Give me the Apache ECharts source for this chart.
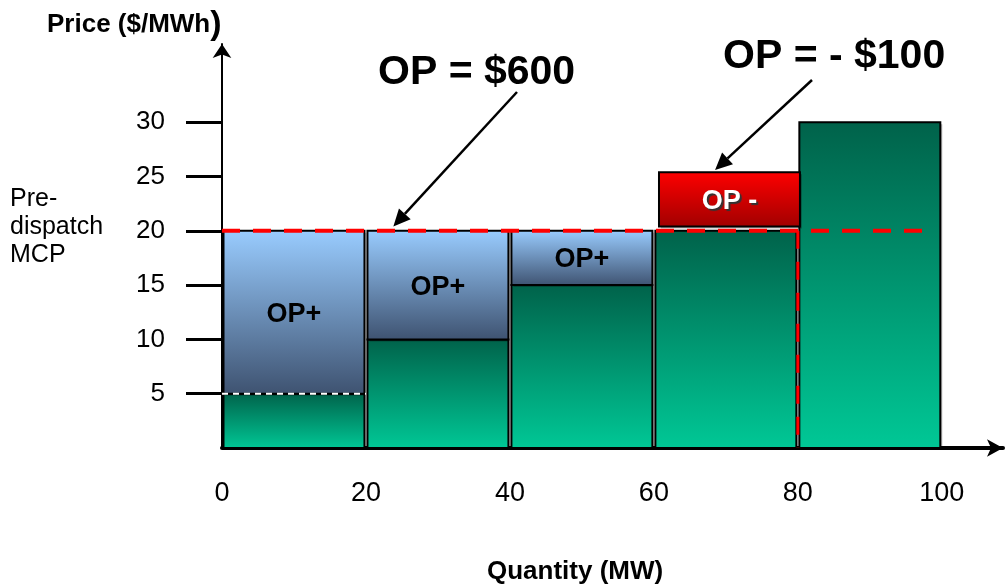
<!DOCTYPE html>
<html>
<head>
<meta charset="utf-8">
<script src="https://cdn.jsdelivr.net/npm/echarts@6/dist/echarts.min.js"></script>
<style>
  html, body { margin: 0; padding: 0; background: #fff; }
  #chart { width: 1005px; height: 588px; }
</style>
</head>
<body>
<div id="chart"></div>
<script>
// offer blocks (MW from / to) and their offer price ($/MWh)
const quantityStart = [0, 20, 40, 60, 80];
const quantityEnd = [20, 40, 60, 80, 100];
const offerPrice = [5, 10, 15, 20, 30];
const mcp = 20;
// blocks dispatched below the pre-dispatch MCP -> OP+
const opPlusBlocks = [0, 1, 2];
const opPlusLabel = 'OP+';
// the OP- box above block 4: [from MW, to MW, low $, high $]
const opMinusBox = [60.5, 80.5, 20.4, 25.4];
const opMinusLabel = 'OP -';
const xTicks = [0, 20, 40, 60, 80, 100];
const yTicks = [5, 10, 15, 20, 25, 30];

const FONT = 'Liberation Sans, Arial, sans-serif';

const chart = echarts.init(document.getElementById('chart'));

function grad(top, bottom) {
  return new echarts.graphic.LinearGradient(0, 0, 0, 1, [
    { offset: 0, color: top },
    { offset: 1, color: bottom }
  ]);
}

// rectangle between [x0, x1] and [y0, y1] in data units
function boxRender(topColor, bottomColor, label, textStyle) {
  return function (params, api) {
    const a = api.coord([api.value(0), api.value(3)]);
    const b = api.coord([api.value(1), api.value(2)]);
    const x = a[0] + 1.5;
    const y = a[1];
    const w = b[0] - a[0] - 3;
    const h = b[1] - a[1];
    const children = [
      { type: 'rect', shape: { x: x + 2, y: y + 2, width: w, height: h }, style: { fill: 'rgba(0,0,0,0.25)' } },
      { type: 'rect', shape: { x: x, y: y, width: w, height: h }, style: { fill: grad(topColor, bottomColor), stroke: '#000', lineWidth: 2 } }
    ];
    if (label) {
      children.push({
        type: 'text',
        style: Object.assign({ text: label, x: x + w / 2, y: y + h / 2 + 2, align: 'center', verticalAlign: 'middle' }, textStyle)
      });
    }
    return { type: 'group', children: children };
  };
}

const greenData = quantityStart.map((q, i) => [q, quantityEnd[i], 0, offerPrice[i]]);
const blueData = opPlusBlocks.map(i => [quantityStart[i], quantityEnd[i], offerPrice[i], mcp]);

chart.setOption({
  animation: false,
  grid: { left: 222, right: 2, top: 44, bottom: 140 },
  xAxis: {
    type: 'value',
    min: 0,
    max: 108.5,
    splitLine: { show: false },
    axisLine: { onZero: false, symbol: ['none', 'arrow'], symbolSize: [13, 16], lineStyle: { color: '#000', width: 4 } },
    axisTick: { show: false },
    axisLabel: { customValues: xTicks, margin: 32, fontSize: 27, color: '#000', fontFamily: FONT }
  },
  yAxis: {
    type: 'value',
    min: 0,
    max: 37.2,
    splitLine: { show: false },
    axisLine: { onZero: false, symbol: ['none', 'arrow'], symbolSize: [14, 14], lineStyle: { color: '#000', width: 2 } },
    axisTick: { customValues: yTicks, length: 36, lineStyle: { color: '#000', width: 3 } },
    axisLabel: { customValues: yTicks, margin: 57, fontSize: 26, color: '#000', fontFamily: FONT }
  },
  series: [
    {
      type: 'custom',
      z: 2,
      renderItem: boxRender('#00624a', '#00c896'),
      encode: { x: [0, 1], y: [2, 3] },
      data: greenData
    },
    {
      type: 'custom',
      z: 3,
      renderItem: boxRender('#99ccff', '#3e5270', opPlusLabel, { font: 'bold 27px ' + FONT, fill: '#000' }),
      encode: { x: [0, 1], y: [2, 3] },
      data: blueData
    },
    {
      type: 'custom',
      z: 3,
      renderItem: boxRender('#ff0000', '#a00000', opMinusLabel, {
        font: 'bold 27px ' + FONT, fill: '#fff', textShadowColor: '#333', textShadowOffsetX: 2, textShadowOffsetY: 2, textShadowBlur: 1
      }),
      encode: { x: [0, 1], y: [2, 3] },
      data: [opMinusBox]
    },
    {
      type: 'line',
      z: 4,
      symbol: 'none',
      lineStyle: { color: '#fff', width: 2, type: [6, 5] },
      data: [[quantityStart[0], offerPrice[0]], [quantityEnd[0], offerPrice[0]]]
    },
    {
      type: 'line',
      z: 5,
      symbol: 'none',
      lineStyle: { color: '#ff0000', width: 4, type: [18, 13] },
      data: [[0, mcp], [98.5, mcp]]
    },
    {
      type: 'line',
      z: 5,
      symbol: 'none',
      lineStyle: { color: '#ff0000', width: 3, type: [18, 13] },
      data: [[quantityStart[4], mcp], [quantityStart[4], 0]]
    }
  ]
});

function arrow(from, to) {
  const dx = to[0] - from[0], dy = to[1] - from[1];
  const len = Math.hypot(dx, dy);
  const ux = dx / len, uy = dy / len;
  const head = 17, half = 8;
  const bx = to[0] - ux * head, by = to[1] - uy * head;
  return [
    { type: 'line', shape: { x1: from[0], y1: from[1], x2: bx, y2: by }, style: { stroke: '#000', lineWidth: 2.5 } },
    { type: 'polygon', shape: { points: [to, [bx - uy * half, by + ux * half], [bx + uy * half, by - ux * half]] }, style: { fill: '#000' } }
  ];
}

const tip1 = chart.convertToPixel({ gridIndex: 0 }, [23.8, 20.4]);
const tip2 = chart.convertToPixel({ gridIndex: 0 }, [68.5, 25.6]);

chart.setOption({
  graphic: [
    {
      type: 'text', left: 47, top: 8,
      style: {
        text: '{a|Price ($/MWh}{b|)}',
        rich: {
          a: { font: 'bold 26px ' + FONT, fill: '#000' },
          b: { font: 'bold 34px ' + FONT, fill: '#000' }
        }
      }
    },
    {
      type: 'text', left: 10, top: 185,
      style: { text: 'Pre-\ndispatch\nMCP', font: '25px ' + FONT, lineHeight: 28, fill: '#000' }
    },
    {
      type: 'text', left: 487, top: 559,
      style: { text: 'Quantity (MW)', font: 'bold 26px ' + FONT, fill: '#000' }
    },
    {
      type: 'text', left: 378, top: 52,
      style: { text: 'OP = $600', font: 'bold 41px ' + FONT, fill: '#000' }
    },
    {
      type: 'text', left: 723, top: 36,
      style: { text: 'OP = - $100', font: 'bold 41px ' + FONT, fill: '#000' }
    }
  ].concat(arrow([517, 92], tip1), arrow([812, 80], tip2))
});
</script>
</body>
</html>
